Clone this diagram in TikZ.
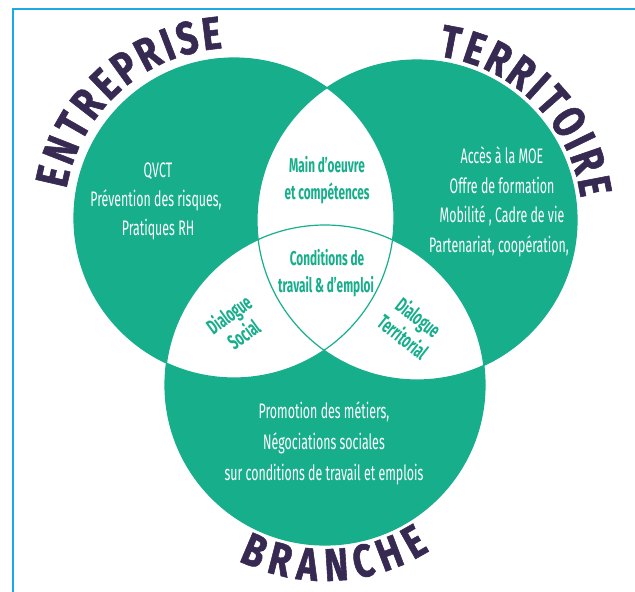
\documentclass[tikz,border=0pt]{standalone}
\usepackage{fontspec}
\setmainfont{Fira Sans}
\newfontfamily\condfont[FakeStretch=0.59]{Fira Sans}
\newfontfamily\titlefont[FakeStretch=0.78,FakeBold=1.2]{Fira Sans}
\usetikzlibrary{calc}
\definecolor{vteal}{HTML}{17AE8C}
\definecolor{vpurple}{HTML}{372A52}
\definecolor{vblue}{HTML}{1BA9E6}
\tikzset{
  bodytxt/.style={text=white, font=\condfont\fontsize{21}{25}\selectfont, anchor=base, inner sep=0pt},
  centertxt/.style={text=vteal, font=\condfont\bfseries\fontsize{20}{25}\selectfont, anchor=base, inner sep=0pt},
  sidetxt/.style={text=vteal, font=\condfont\bfseries\fontsize{21}{25}\selectfont, align=center, inner sep=0pt},
  titleletter/.style={text=vpurple, font=\titlefont\bfseries\fontsize{46}{46}\selectfont, inner sep=0pt},
  ring/.style={draw=vteal, line width=1.2pt},
  frameline/.style={draw=vblue, line width=2pt},
}
\begin{document}
\begin{tikzpicture}[x=1pt,y=-1pt]
\useasboundingbox (0,0) rectangle (635,592);
% frame
\coordinate (fbl) at (13,592);
\coordinate (ftl) at (13,9);
\coordinate (ftr) at (635,9);
\draw[frameline] (fbl) -- (ftl) -- (ftr);
% circles
\coordinate (cL) at (234,218);
\coordinate (cR) at (417,220);
\coordinate (cB) at (325,385);
\fill[vteal] (cL) circle[radius=160pt];
\fill[vteal] (cR) circle[radius=160pt];
\fill[vteal] (cB) circle[radius=160pt];
\begin{scope}
  \clip (cL) circle[radius=160pt];
  \fill[white] (cR) circle[radius=160pt];
  \fill[white] (cB) circle[radius=160pt];
\end{scope}
\begin{scope}
  \clip (cR) circle[radius=160pt];
  \fill[white] (cB) circle[radius=160pt];
\end{scope}
\draw[ring] (cL) circle[radius=160pt];
\draw[ring] (cR) circle[radius=160pt];
\draw[ring] (cB) circle[radius=160pt];
% titles
\foreach \l/\a [count=\i] in {E/167,N/158.57,T/150.14,R/142.02,E/133.9,P/125.93,R/117.66,I/110.93,S/104.66,E/97}
  \node[titleletter, rotate=\a-90] (ent\i) at ($(cL)+({186*cos(\a)},{-186*sin(\a)})$) {\l};
\foreach \l/\a [count=\i] in {T/79.2,E/71.33,R/63.14,R/54.64,I/47.87,T/41.42,O/32.92,I/25.84,R/19.07,E/10.88}
  \node[titleletter, rotate=\a-90] (ter\i) at ($(cR)+({181*cos(\a)},{-181*sin(\a)})$) {\l};
\foreach \l/\a [count=\i] in {B/-113,R/-104.34,A/-95.53,N/-86.41,C/-77.75,H/-69.09,E/-60.43}
  \node[titleletter, rotate=\a+90] (bra\i) at ($(cB)+({180*cos(\a)},{-180*sin(\a)})$) {\l};
% left texts
\node[bodytxt] (l1) at (158,177) {QVCT};
\node[bodytxt] (l2) at (156,206) {Prévention des risques,};
\node[bodytxt] (l3) at (158,235) {Pratiques RH};
% right texts
\node[bodytxt] (r1) at (502,163) {Accès à la MOE};
\node[bodytxt] (r2) at (502,193) {Offre de formation};
\node[bodytxt] (r3) at (502,222) {Mobilité , Cadre de vie};
\node[bodytxt] (r4) at (499,252) {Partenariat, coopération,};
% center texts
\node[centertxt] (t1) at (327,172) {Main d’oeuvre};
\node[centertxt] (t2) at (327,199) {et compétences};
\node[centertxt] (c1) at (327,265) {Conditions de};
\node[centertxt] (c2) at (326,292) {travail \& d’emploi};
% side texts
\node[sidetxt, rotate=36] (ds) at (236,324) {Dialogue\\Social};
\node[sidetxt, rotate=-38] (dt) at (411,327) {Dialogue\\Territorial};
% bottom texts
\node[bodytxt] (b1) at (324,418) {Promotion des métiers,};
\node[bodytxt] (b2) at (324,449) {Négociations sociales};
\node[bodytxt] (b3) at (324,480) {sur conditions de travail et emplois};
\end{tikzpicture}
\end{document}
